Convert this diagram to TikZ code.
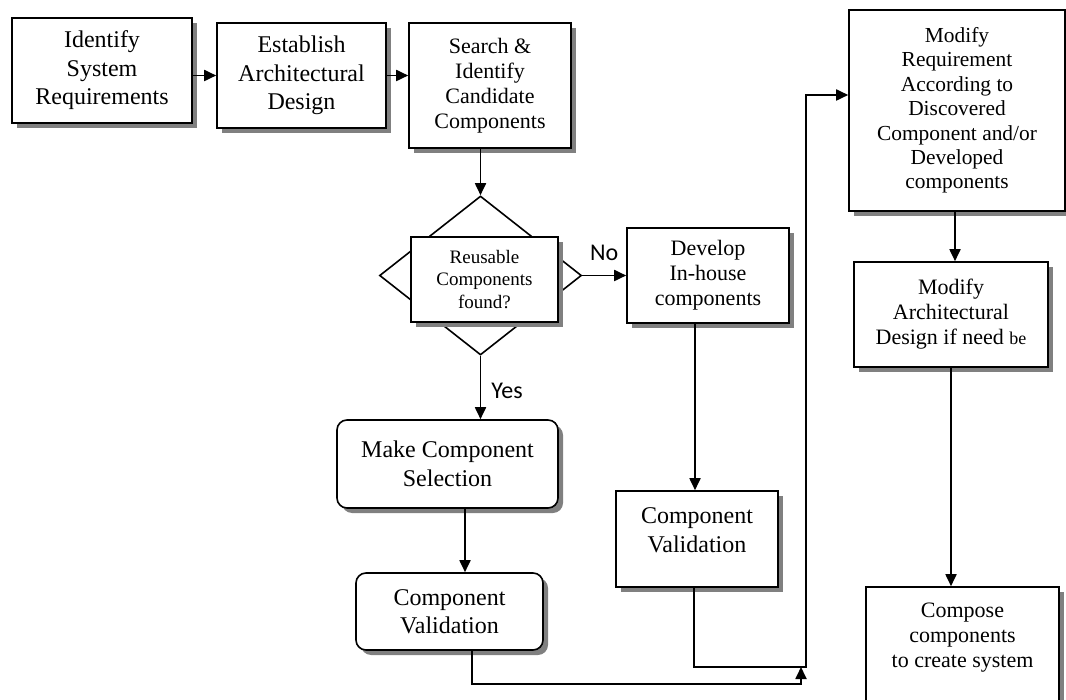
\documentclass[tikz,border=0pt]{standalone}
\usepackage{fontspec}
\setmainfont{Liberation Serif}
\newfontfamily\labelfont{Carlito}
\usetikzlibrary{arrows.meta, positioning, shapes.geometric, shadows}

\begin{document}
\begin{tikzpicture}[
    x=1pt, y=-1pt,
    % Estilos de cajas, flechas y textos
    box/.style={rectangle, draw=black, line width=0.8pt, fill=white, align=center, inner sep=2pt,
                drop shadow={shadow xshift=2.5pt, shadow yshift=-2.5pt, fill=black!50, opacity=1}},
    rbox/.style={box, rounded corners=5pt},
    decision/.style={diamond, draw=black, line width=0.8pt, fill=white, inner sep=0pt},
    arrow/.style={line width=0.9pt, -{Triangle[length=6pt, width=5.5pt]}, draw=black},
    fbig/.style={font=\fontsize{12}{14.25}\selectfont},
    fmid/.style={font=\fontsize{11}{12.5}\selectfont},
    fsmall/.style={font=\fontsize{9.5}{11.2}\selectfont},
    lbl/.style={font=\labelfont\fontsize{12}{14}\selectfont, inner sep=0pt}
    ]
    \useasboundingbox (0,0) rectangle (533,350);
    \clip (0,0) rectangle (533,350);

    % Nodos
    \node (ident) [box, fbig, minimum width=90pt, minimum height=52.5pt] at (51,35.25) {Identify\\System\\Requirements};
    \node (design) [box, fbig, minimum width=84.5pt, minimum height=52.5pt] at (150.75,37.75) {Establish\\Architectural\\Design};
    \node (search) [box, fmid, minimum width=81pt, minimum height=62.5pt] at (245,42.75) {Search \&\\Identify\\Candidate\\Components};
    \node (reuse) [decision, minimum width=101pt, minimum height=79.5pt] at (240.25,137.75) {};
    \node (found) [box, fsmall, minimum width=73.5pt, minimum height=42.5pt] at (242.25,139.75) {Reusable\\Components\\found?};
    \node (develop) [box, fmid, minimum width=81pt, minimum height=47.5pt] at (354,137.75) {Develop\\In-house\\components};
    \node (select) [rbox, fbig, minimum width=110.5pt, minimum height=44pt] at (223.75,232) {Make Component\\Selection};
    \node (valid) [rbox, fbig, minimum width=93.5pt, minimum height=38.5pt] at (224.75,305.75) {Component\\Validation};
    \node (check) [box, fbig, minimum width=81pt, minimum height=48pt, text depth=9pt] at (348.5,269.5) {Component\\Validation};
    \node (modreq) [box, font=\fontsize{10.7}{12.2}\selectfont, minimum width=108pt, minimum height=100.5pt] at (478.5,55.25) {Modify\\Requirement\\According to\\Discovered\\Component and/or\\Developed\\components};
    \node (modarch) [box, fmid, minimum width=97pt, minimum height=52.5pt] at (475.5,157.25) {Modify\\Architectural\\Design if need {\fontsize{9}{10}\selectfont be}};
    \node (compose) [box, fmid, minimum width=96.5pt, minimum height=76.5pt, text depth=28pt] at (481.25,331.75) {Compose\\components\\to create system};

    \coordinate (merge) at (400.5,333.5);
    \coordinate (riser) at (403,333.5);

    % Conexiones
    \draw [arrow] (ident.east |- design.west) -- (design.west);
    \draw [arrow] (design.east) -- (design.east -| search.west);
    \draw [arrow] (reuse.north |- search.south) -- (reuse.north);
    \draw [arrow] (reuse.east) -- node[lbl, above=7pt] {No} (reuse.east -| develop.west);
    \draw [arrow] (reuse.south) -- node[lbl, right=5pt, pos=0.55] {Yes} (reuse.south |- select.north);
    \draw [arrow] ([xshift=8.75pt]select.south) -- ([xshift=8.75pt]select.south |- valid.north);
    \draw [arrow] ([xshift=-6.5pt]develop.south) -- ([xshift=-6.5pt]develop.south |- check.north);

    % Retorno hacia la modificacion de requisitos
    \draw [arrow] ([xshift=11.25pt]valid.south) -- ++(0,16.5) -| (merge);
    \draw [arrow] ([xshift=-1.5pt]check.south) |- (riser) |- ([yshift=7.75pt]modreq.west);

    \draw [arrow] ([xshift=-1pt]modreq.south) -- ([xshift=-1pt]modreq.south |- modarch.north);
    \draw [arrow] (modarch.south) -- (modarch.south |- compose.north);

\end{tikzpicture}
\end{document}
